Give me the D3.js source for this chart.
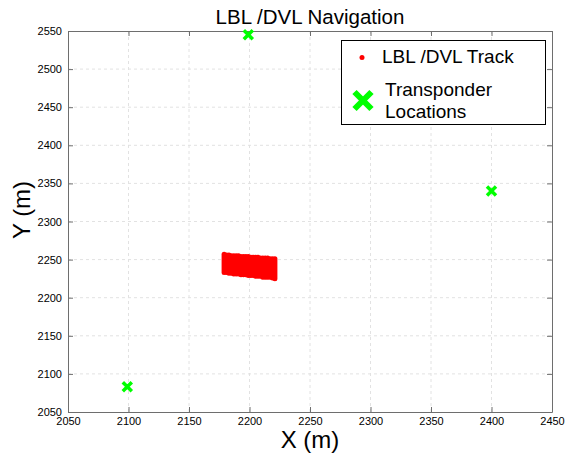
<!DOCTYPE html>
<meta charset="utf-8">
<style>
body { margin: 0; background: #fff; }
text { font-family: "Liberation Sans", Arial, sans-serif; }
.grid line { stroke: #e2e2e2; stroke-dasharray: 3,3; stroke-width: 1px; }
.tick text { font-size: 11px; fill: #000; }
</style>
<body>
<script src="https://cdnjs.cloudflare.com/ajax/libs/d3/7.8.5/d3.min.js"></script>
<script>

// tick values
var xTicks = [2050, 2100, 2150, 2200, 2250, 2300, 2350, 2400, 2450];
var yTicks = [2050, 2100, 2150, 2200, 2250, 2300, 2350, 2400, 2450, 2500, 2550];

// transponder locations
var transX = [2199, 2400, 2099];
var transY = [2545, 2340, 2083];

// LBL/DVL track, read as survey lanes (x, top end, bottom end)
var laneX      = [2179, 2181, 2183, 2185, 2187, 2189, 2191, 2193, 2195, 2197, 2199,
                  2201, 2203, 2205, 2207, 2209, 2211, 2213, 2215, 2217, 2219, 2221];
var laneTop    = [2257, 2256, 2256, 2255, 2255, 2255, 2255, 2254, 2254, 2254, 2254,
                  2253, 2253, 2253, 2253, 2252, 2252, 2252, 2252, 2251, 2251, 2251];
var laneBottom = [2233, 2233, 2232, 2232, 2231, 2231, 2231, 2230, 2230, 2230, 2229,
                  2229, 2229, 2228, 2228, 2228, 2227, 2227, 2227, 2227, 2226, 2225];

var W = 566, H = 459;
var margin = {top: 31, right: 14, bottom: 47, left: 68},
    width = W - margin.left - margin.right,
    height = H - margin.top - margin.bottom;

var x = d3.scaleLinear().domain([2050, 2450]).range([0, width]);
var y = d3.scaleLinear().domain([2050, 2550]).range([height, 0]);

var root = d3.select("body").append("svg")
    .attr("width", W)
    .attr("height", H);

var svg = root.append("g")
    .attr("transform", "translate(" + margin.left + "," + margin.top + ")");

// grid
svg.append("g").attr("class", "grid")
  .selectAll("line").data(xTicks.slice(1, -1)).enter().append("line")
    .attr("x1", d => x(d)).attr("x2", d => x(d))
    .attr("y1", 0).attr("y2", height);
svg.append("g").attr("class", "grid")
  .selectAll("line").data(yTicks.slice(1, -1)).enter().append("line")
    .attr("y1", d => y(d)).attr("y2", d => y(d))
    .attr("x1", 0).attr("x2", width);

// axes (MATLAB style: ticks inside, box)
var xAxis = svg.append("g")
    .attr("transform", "translate(0," + height + ")")
    .call(d3.axisBottom(x).tickValues(xTicks).tickSizeInner(-5).tickSizeOuter(0).tickPadding(4).tickFormat(d3.format("d")));
var yAxis = svg.append("g")
    .call(d3.axisLeft(y).tickValues(yTicks).tickSizeInner(-5).tickSizeOuter(0).tickPadding(6).tickFormat(d3.format("d")));
[xAxis, yAxis].forEach(function(a) {
  a.select(".domain").attr("stroke", "#6e6e6e");
  a.selectAll(".tick line").attr("stroke", "#6e6e6e");
});
xAxis.selectAll(".tick text").attr("dy", "0.8em");
// top / right ticks
svg.append("g")
    .call(d3.axisTop(x).tickValues(xTicks).tickSizeInner(-5).tickSizeOuter(0).tickFormat(""))
    .call(g => g.selectAll("line, path").attr("stroke", "#6e6e6e"));
svg.append("g").attr("transform", "translate(" + width + ",0)")
    .call(d3.axisRight(y).tickValues(yTicks).tickSizeInner(-5).tickSizeOuter(0).tickFormat(""))
    .call(g => g.selectAll("line, path").attr("stroke", "#6e6e6e"));

// track
svg.append("g").selectAll("line").data(laneX).enter().append("line")
    .attr("x1", d => x(d)).attr("x2", d => x(d))
    .attr("y1", (d, i) => y(laneTop[i]))
    .attr("y2", (d, i) => y(laneBottom[i]))
    .attr("stroke", "#ff0000")
    .attr("stroke-width", 5)
    .attr("stroke-linecap", "round");

// X markers
function cross(s) {
  return "M" + (-s) + "," + (-s) + "L" + s + "," + s + "M" + (-s) + "," + s + "L" + s + "," + (-s);
}
svg.append("g").selectAll("path").data(transX).enter().append("path")
    .attr("transform", (d, i) => "translate(" + x(d) + "," + y(transY[i]) + ")")
    .attr("d", cross(4.5))
    .attr("stroke", "#00ff00")
    .attr("stroke-width", 3.5)
    .attr("fill", "none");

// title and labels
root.append("text")
    .attr("x", 310).attr("y", 24)
    .attr("text-anchor", "middle")
    .style("font-size", "20.5px")
    .text("LBL /DVL Navigation");

root.append("text")
    .attr("x", margin.left + width / 2).attr("y", 448)
    .attr("text-anchor", "middle")
    .style("font-size", "24px")
    .text("X (m)");

root.append("text")
    .attr("transform", "translate(30,210) rotate(-90)")
    .attr("text-anchor", "middle")
    .style("font-size", "24px")
    .text("Y (m)");

// legend
var lg = root.append("g");
lg.append("rect")
    .attr("x", 341.5).attr("y", 40.5).attr("width", 204).attr("height", 84)
    .attr("fill", "#fff").attr("stroke", "#000").attr("stroke-width", 1);
lg.append("circle").attr("cx", 362).attr("cy", 57.5).attr("r", 2.5).attr("fill", "#ff0000");
lg.append("text").attr("x", 382).attr("y", 63).style("font-size", "19px").text("LBL /DVL Track");
lg.append("path")
    .attr("transform", "translate(363,100.5)")
    .attr("d", cross(8.5))
    .attr("stroke", "#00ff00").attr("stroke-width", 6).attr("fill", "none");
lg.append("text").attr("x", 385).attr("y", 96).style("font-size", "19px").text("Transponder");
lg.append("text").attr("x", 385).attr("y", 118).style("font-size", "19px").text("Locations");

</script>
</body>
